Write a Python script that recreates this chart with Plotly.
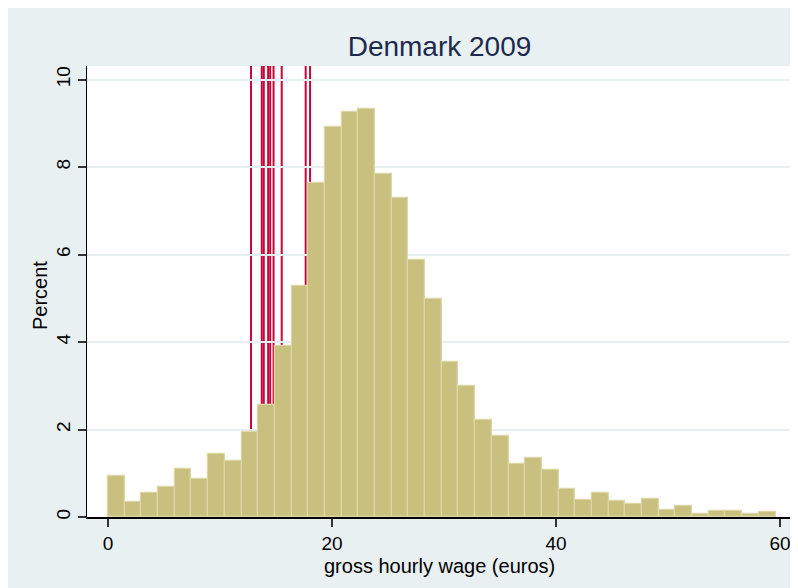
import plotly.graph_objects as go

# ---- data ----
bin_start = 0.0
bin_width = 1.49
percent = [0.94, 0.35, 0.56, 0.69, 1.10, 0.86, 1.45, 1.29, 1.95, 2.57,
           3.90, 5.27, 7.64, 8.91, 9.26, 9.33, 7.83, 7.29, 5.87, 4.98,
           3.54, 2.99, 2.21, 1.86, 1.22, 1.34, 1.08, 0.63, 0.39, 0.54,
           0.37, 0.29, 0.42, 0.16, 0.26, 0.06, 0.14, 0.14, 0.06, 0.11]
min_wage_lines = [12.77, 13.73, 13.91, 14.30, 14.48, 14.78, 15.51, 17.65, 18.04]
x_ticks = [0, 20, 40, 60]
y_ticks = [0, 2, 4, 6, 8, 10]
title_text = "Denmark 2009"
x_title = "gross hourly wage (euros)"
y_title = "Percent"

centers = [bin_start + bin_width * (i + 0.5) for i in range(len(percent))]

BG = "#e9f0f2"
FONT = "Liberation Sans, Arial, sans-serif"

fig = go.Figure()
fig.add_trace(go.Bar(
    x=centers, y=percent, width=[bin_width] * len(percent),
    marker=dict(color="#c9c080", line=dict(color="#ddd7a8", width=1.2)),
    hoverinfo="skip", showlegend=False,
))

shapes = []
for v in min_wage_lines:
    shapes.append(dict(type="line", xref="x", yref="paper", x0=v, x1=v, y0=0, y1=1,
                       line=dict(color="#c8053a", width=2), layer="between"))

H = 588
fig.update_layout(
    width=798, height=H,
    margin=dict(l=79, r=14, t=58, b=79),
    paper_bgcolor=BG, plot_bgcolor="white",
    bargap=0,
    shapes=shapes,
    font=dict(family=FONT, color="black", size=19),
    title=dict(text=title_text, x=0.5, xref="paper", xanchor="center",
               y=1 - 38 / H, yanchor="middle",
               font=dict(family=FONT, size=28, color="#1c2a4e")),
    xaxis=dict(range=[-1.875, 61.07], tickvals=x_ticks, ticks="outside", ticklen=8,
               tickwidth=1.5, tickcolor="#333", showline=True, linecolor="black",
               linewidth=1.5, showgrid=False, zeroline=False,
               tickfont=dict(size=19)),
    yaxis=dict(range=[0, 10.31], tickvals=y_ticks, ticks="outside", ticklen=8,
               tickwidth=1.5, tickcolor="#333", showline=True, linecolor="black",
               linewidth=1.2, showgrid=True, gridcolor="#e7eff1", gridwidth=1.5,
               zeroline=False, tickangle=-90, tickfont=dict(size=19)),
    annotations=[
        dict(text=x_title, xref="paper", yref="paper", x=0.5, y=(517 - 566) / 451,
             xanchor="center", yanchor="middle", showarrow=False, font=dict(size=20)),
        dict(text=y_title, xref="paper", yref="paper", x=(40 - 87) / 705, y=0.49,
             xanchor="center", yanchor="middle", textangle=-90, showarrow=False,
             font=dict(size=20)),
    ],
)

fig.write_html("out.html")
